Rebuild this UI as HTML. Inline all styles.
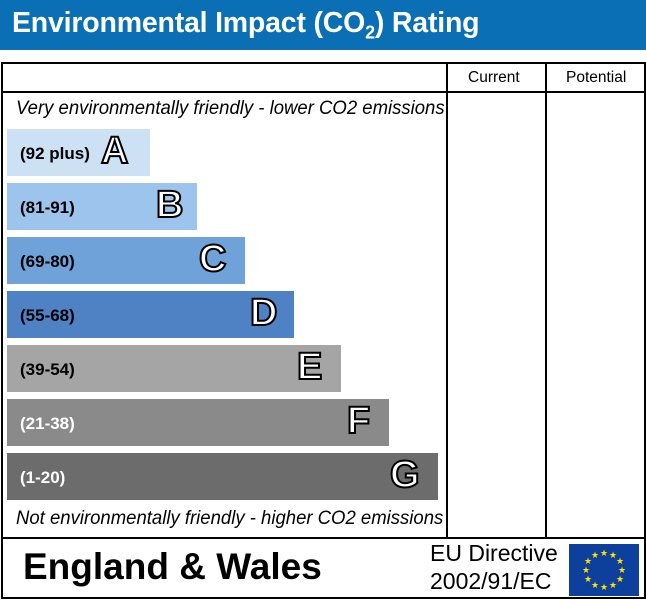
<!DOCTYPE html>
<html><head><style>
body{margin:0;width:646px;height:600px;background:#fff;position:relative;overflow:hidden;font-family:"Liberation Sans",sans-serif}
.hdr{position:absolute;left:0;top:0;width:646px;height:50px;background:#0b6fb5;color:#fff;font-size:28.5px;font-weight:bold}
.hdr span{position:absolute;left:12px;top:7px;letter-spacing:-0.2px}
.box{position:absolute;left:1px;top:62px;width:641px;height:533px;border:2px solid #000}
.ln{position:absolute;background:#000}
.t{position:absolute;white-space:nowrap}
.bar{position:absolute;left:7px;height:47px}
.bar .r{position:absolute;left:13px;top:15px;font-size:17px;font-weight:bold}
.bar .L{position:absolute;top:1px;font-size:38px;font-weight:bold;color:#fff;-webkit-text-stroke:2px #000}
</style></head><body>
<div class="hdr"><span>Environmental Impact (CO<sub style="font-size:18px">2</sub>) Rating</span></div>
<div class="box"></div>
<div class="ln" style="left:1px;top:91px;width:644px;height:2px"></div>
<div class="ln" style="left:446px;top:62px;width:2px;height:476px"></div>
<div class="ln" style="left:545px;top:62px;width:2px;height:476px"></div>
<div class="ln" style="left:1px;top:537px;width:644px;height:2px"></div>
<div class="t" style="left:468px;top:69px;font-size:15.5px">Current</div>
<div class="t" style="left:566px;top:69px;font-size:15.5px">Potential</div>
<div class="t" style="left:16px;top:97px;font-size:19.5px;font-style:italic;transform:scaleX(0.95);transform-origin:0 0">Very environmentally friendly - lower CO2 emissions</div>
<div class="t" style="left:16px;top:507px;font-size:19.5px;font-style:italic;transform:scaleX(0.95);transform-origin:0 0">Not environmentally friendly - higher CO2 emissions</div>

<div class="bar" style="top:129px;width:143px;background:#cde1f4"><span class="r">(92 plus)</span><span class="L" style="left:94px">A</span></div>
<div class="bar" style="top:183px;width:190px;background:#9dc4ec"><span class="r">(81-91)</span><span class="L" style="left:149px">B</span></div>
<div class="bar" style="top:237px;width:238px;background:#6fa2d9"><span class="r">(69-80)</span><span class="L" style="left:192px">C</span></div>
<div class="bar" style="top:291px;width:287px;background:#4f81c5"><span class="r">(55-68)</span><span class="L" style="left:243px">D</span></div>
<div class="bar" style="top:345px;width:334px;background:#a5a5a5"><span class="r">(39-54)</span><span class="L" style="left:290px">E</span></div>
<div class="bar" style="top:399px;width:382px;background:#8a8a8a"><span class="r" style="color:#fff">(21-38)</span><span class="L" style="left:340px">F</span></div>
<div class="bar" style="top:453px;width:431px;background:#6c6c6c"><span class="r" style="color:#fff">(1-20)</span><span class="L" style="left:383px">G</span></div>

<div class="t" style="left:23px;top:546px;font-size:37px;font-weight:bold">England &amp; Wales</div>
<div class="t" style="left:430px;top:540px;font-size:23px">EU Directive</div>
<div class="t" style="left:430px;top:568px;font-size:23px">2002/91/EC</div>
<svg style="position:absolute;left:569px;top:544px" width="70" height="52" viewBox="0 0 70 52">
<rect width="70" height="52" fill="#0d3f9c"/>
<g fill="#ffe000" font-size="9" text-anchor="middle" font-family="DejaVu Sans">
<text x="35" y="12">★</text><text x="44" y="14">★</text><text x="51" y="20">★</text><text x="53" y="29">★</text><text x="51" y="38">★</text><text x="44" y="44">★</text><text x="35" y="46">★</text><text x="26" y="44">★</text><text x="19" y="38">★</text><text x="17" y="29">★</text><text x="19" y="20">★</text><text x="26" y="14">★</text>
</g></svg>
</body></html>
